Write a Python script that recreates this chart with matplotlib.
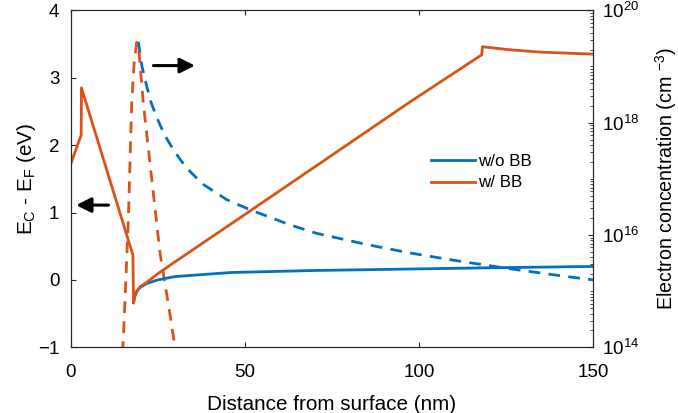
import numpy as np
import matplotlib
matplotlib.use("Agg")
import matplotlib.pyplot as plt
from matplotlib.ticker import LogLocator, FixedLocator, NullFormatter

plt.rcParams['font.family'] = ['Liberation Sans', 'DejaVu Sans']
plt.rcParams['mathtext.default'] = 'regular'

# couleurs type MATLAB
c_blue = "#0072BD"
c_orange = "#D95319"
c_ax = "#262626"

# bande de conduction (eV), axe gauche
x_wo = [18.1, 18.4, 19.0, 20.0, 22.0, 25.0, 30.0, 46.0, 70.0, 95.0, 120.0, 150.0]
E_wo = [-0.34, -0.25, -0.17, -0.11, -0.05, 0.0, 0.05, 0.11, 0.14, 0.16, 0.18, 0.20]

x_w = [0.0, 3.05, 3.15, 17.9, 18.1, 18.4, 19.0, 20.0, 22.0, 25.0, 28.9, 34.6, 50.0, 75.0, 97.4,
       118.0, 118.2, 125.0, 134.6, 150.0]
E_w = [1.71, 2.15, 2.85, 0.37, -0.34, -0.25, -0.17, -0.10, -0.03, 0.09, 0.23, 0.43, 0.97, 1.85, 2.64,
       3.34, 3.46, 3.42, 3.38, 3.35]

# concentration d'électrons (log10 cm^-3), axe droit
xn_wo = [19.45, 20.5, 21.9, 23.0, 24.7, 27.0, 29.5, 32.0, 34.3, 38.1, 44.8, 51.5, 63.0, 70.6, 85.0,
         97.4, 110.0, 126.0, 140.0, 150.0]
logn_wo = [19.44, 19.0, 18.64, 18.38, 18.1, 17.78, 17.52, 17.3, 17.13, 16.9, 16.63, 16.45, 16.18,
           16.03, 15.83, 15.68, 15.55, 15.4, 15.28, 15.2]

xn_w = [14.9, 15.15, 16.6, 17.55, 18.3, 19.0, 19.6, 20.9, 23.3, 25.7, 28.0, 30.0, 30.3]
logn_w = [13.9, 14.13, 16.27, 18.34, 19.1, 19.43, 19.3, 18.34, 17.0, 15.67, 14.8, 14.0, 13.8]

fs = 13.5
lw = 2.0
dash = (4.2, 3.0)

fig = plt.figure(figsize=(6.78, 4.13), dpi=100)
ax = fig.add_axes([0.104, 0.159, 0.771, 0.816])
ax2 = ax.twinx()

# axe droit : concentration
ax2.plot(xn_wo, 10**np.array(logn_wo), color=c_blue, lw=lw, linestyle=(0, dash))
ax2.plot(xn_w, 10**np.array(logn_w), color=c_orange, lw=lw, linestyle=(0, dash))
ax2.set_yscale("log")
ax2.set_ylim(1e14, 1e20)
ax2.yaxis.set_major_locator(FixedLocator([1e14, 1e16, 1e18, 1e20]))
ax2.yaxis.set_minor_locator(LogLocator(base=10, subs=np.arange(1, 10), numticks=20))
ax2.yaxis.set_minor_formatter(NullFormatter())
ax2.set_ylabel("Electron concentration (cm $^{-3}$)", fontsize=fs * 1.05, color="k", labelpad=10)

# axe gauche : E_C - E_F
ax.set_zorder(ax2.get_zorder() + 1)
ax.patch.set_visible(False)
ax.plot(x_wo, E_wo, color=c_blue, lw=lw, label="w/o BB")
ax.plot(x_w, E_w, color=c_orange, lw=lw, label="w/ BB")
ax.set_xlim(0, 150)
ax.set_ylim(-1, 4)
ax.set_xticks([0, 50, 100, 150])
ax.set_yticks([-1, 0, 1, 2, 3, 4])
ax.set_xlabel("Distance from surface (nm)", fontsize=fs * 1.1, color="k", labelpad=10)
ax.set_ylabel("E$_C$ - E$_F$ (eV)", fontsize=fs * 1.1, color="k", labelpad=0)

# flèches
ax.annotate("", xy=(1.6, 1.11), xytext=(10.9, 1.11),
            arrowprops=dict(arrowstyle="-|>,head_length=0.9,head_width=0.45", color="k",
                            lw=2.2, mutation_scale=10, shrinkA=0, shrinkB=0))
ax.annotate("", xy=(35.7, 3.18), xytext=(23.8, 3.18),
            arrowprops=dict(arrowstyle="-|>,head_length=0.9,head_width=0.45", color="k",
                            lw=2.2, mutation_scale=10, shrinkA=0, shrinkB=0))

ax.legend(loc="center left", bbox_to_anchor=(0.69, 0.52), frameon=False,
          fontsize=fs * 0.9, handlelength=2.6, handletextpad=0.15, borderpad=0,
          borderaxespad=0, labelspacing=0.4)

for a in (ax, ax2):
    for s in a.spines.values():
        s.set_color(c_ax)
        s.set_linewidth(0.8)
ax.tick_params(axis="x", which="both", direction="in", top=True, labelsize=fs, colors=c_ax,
               labelcolor="k", length=3.5, pad=12)
ax.tick_params(axis="y", which="both", direction="in", right=False, labelsize=fs, colors=c_ax,
               labelcolor="k", length=3.5, pad=8)
ax2.tick_params(axis="y", which="major", direction="in", labelsize=fs, colors=c_ax,
                labelcolor="k", length=3.5, pad=6)
ax2.tick_params(axis="y", which="minor", direction="in", colors=c_ax, length=2.0)

fig.savefig("out.png", dpi=100)
